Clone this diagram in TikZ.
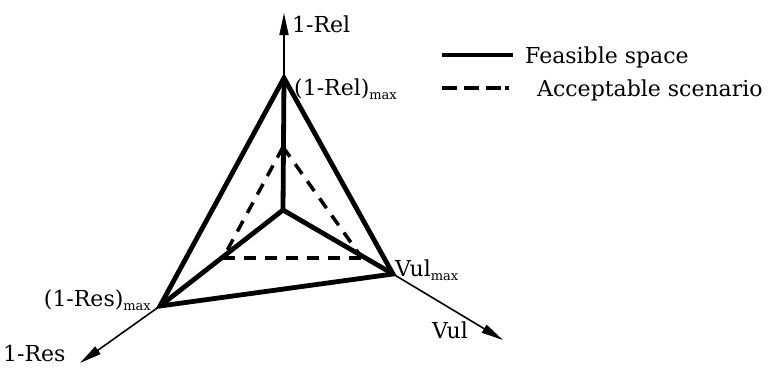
\documentclass[tikz,border=0pt]{standalone}
\usepackage{fontspec}
\setmainfont{DejaVu Serif}
\usetikzlibrary{arrows.meta}
\newcommand\mxsub{\raisebox{-0.35ex}{\fontsize{13}{13}\selectfont max}}
\begin{document}
\begin{tikzpicture}[x=1pt,y=-1pt,
  thickln/.style={line width=4.8pt,line join=miter},
  axisln/.style={line width=1.6pt,-{Triangle[length=22pt,width=9pt]}},
  dashln/.style={line width=3.5pt,dash pattern=on 12pt off 9pt},
  lbl/.style={inner sep=0pt,font=\fontsize{22}{24}\selectfont}]
\useasboundingbox (0,0) rectangle (771,368);
% points
\coordinate (O) at (283,210);
\coordinate (A) at (284,78);
\coordinate (B) at (160,306);
\coordinate (C) at (393,274);
\coordinate (T1) at (284,13);
\coordinate (T2) at (80,363);
\coordinate (T3) at (503,340);
\coordinate (D1) at (283,147);
\coordinate (D2) at (223,258);
\coordinate (D3) at (362,258);
% axes
\draw[axisln] (A) -- (T1);
\draw[axisln] (B) -- (T2);
\draw[axisln] (C) -- (T3);
% feasible space
\draw[thickln] (A) -- (B) -- (C) -- cycle;
\draw[thickln] (O) -- (A);
\draw[thickln] (O) -- (B);
\draw[thickln] (O) -- (C);
% acceptable scenario
\draw[dashln] (D1) -- (D2);
\draw[dashln] (D1) -- (D3);
\draw[dashln] (D2) -- (D3);
% labels
\node[lbl,anchor=base west] (lRel) at (292,32) {1-Rel};
\node[lbl,anchor=base west] (lRelmax) at (294,95) {(1-Rel)\mxsub};
\node[lbl,anchor=base west] (lVulmax) at (395,276) {Vul\mxsub};
\node[lbl,anchor=base east] (lResmax) at (151,306) {(1-Res)\mxsub};
\node[lbl,anchor=base west] (lRes) at (3,361) {1-Res};
\node[lbl,anchor=base west] (lVul) at (432,338) {Vul};
% legend
\coordinate (L1a) at (442,55);
\coordinate (L1b) at (513,55);
\coordinate (L2a) at (442,88);
\coordinate (L2b) at (501,88);
\coordinate (L2c) at (505,88);
\coordinate (L2d) at (509,88);
\draw[line width=4.8pt] (L1a) -- (L1b);
\draw[line width=3.5pt,dash pattern=on 15pt off 7pt] (L2a) -- (L2b);
\draw[line width=3.5pt] (L2c) -- (L2d);
\node[lbl,anchor=base west] (lFeas) at (525,63) {Feasible space};
\node[lbl,anchor=base west] (lAcc) at (537,96) {Acceptable scenario};
\end{tikzpicture}
\end{document}
